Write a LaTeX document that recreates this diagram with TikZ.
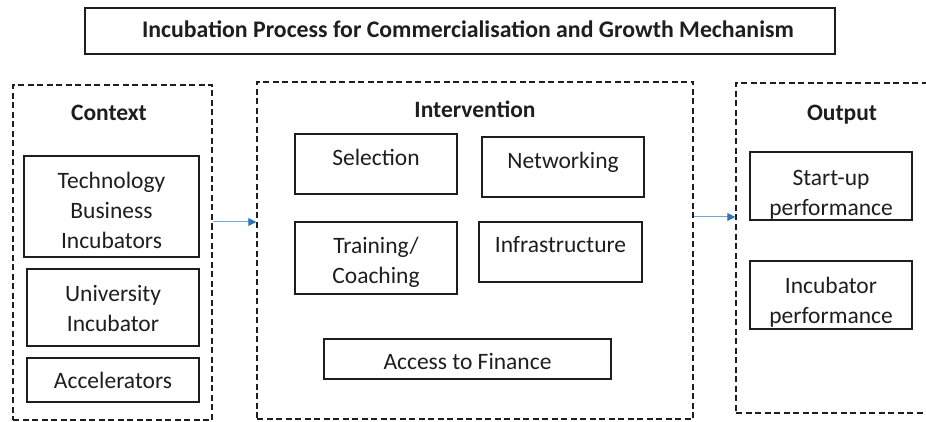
\documentclass[tikz,border=0pt]{standalone}
\usepackage{fontspec}
\setmainfont{Carlito}
\usetikzlibrary{arrows.meta}
\definecolor{ink}{HTML}{1E1E1E}
\definecolor{arrline}{HTML}{6FA8DC}
\definecolor{arrhead}{HTML}{2E75B6}
\tikzset{
  container/.style={draw=ink, line width=1.5pt, dash pattern=on 6pt off 3.5pt, inner sep=0pt},
  box/.style={draw=ink, line width=1.4pt, inner sep=0pt},
  txt/.style={text=ink, font=\fontsize{23.5}{30}\selectfont, align=center, inner sep=0pt},
  one/.style={txt, text height=0.7em, text depth=0.2em},
  head/.style={one, font=\fontsize{23.5}{30}\selectfont\bfseries},
  flow/.style={draw=arrline, line width=1pt, -{Triangle[length=8pt,width=8pt,color=arrhead]}}
}
\begin{document}
\begin{tikzpicture}[x=1pt,y=-1pt]
\useasboundingbox (0,0) rectangle (926,422);
\begin{scope}
\clip (0,0) rectangle (926,422);
% title
\node[box, minimum width=750, minimum height=46] (title) at (460,31) {};
\node[head, font=\fontsize{23.8}{28}\selectfont\bfseries] (titleT) at (468,35) {Incubation Process for Commercialisation and Growth Mechanism};
% containers
\node[container, minimum width=199, minimum height=335] (ctx) at (112.5,252.5) {};
\node[container, minimum width=436, minimum height=337] (intv) at (475,250.5) {};
\node[container, minimum width=230, minimum height=330] (out) at (851,248) {};
% headings
\node[head] (ctxT) at (109,118) {Context};
\node[head] (intvT) at (475,115) {Intervention};
\node[head] (outT) at (842,118) {Output};
% context boxes
\node[box, minimum width=175, minimum height=101] (tbi) at (111.5,206.5) {};
\node[txt] (tbiT) at (111.5,210) {Technology\\Business\\Incubators};
\node[box, minimum width=172, minimum height=77] (uni) at (113,307.5) {};
\node[txt] (uniT) at (113,308.5) {University\\Incubator};
\node[box, minimum width=172, minimum height=44] (acc) at (113,380) {};
\node[one] (accT) at (113,386) {Accelerators};
% intervention boxes
\node[box, minimum width=162, minimum height=60] (sel) at (376,164) {};
\node[one] (selT) at (376,163) {Selection};
\node[box, minimum width=162, minimum height=60] (net) at (563,167) {};
\node[one] (netT) at (563,166) {Networking};
\node[box, minimum width=162, minimum height=72] (tra) at (376,258) {};
\node[txt] (traT) at (376,262) {Training/\\Coaching};
\node[box, minimum width=163, minimum height=60] (inf) at (560.5,252) {};
\node[one] (infT) at (560.5,250) {Infrastructure};
\node[box, minimum width=287, minimum height=40] (fin) at (467.5,359) {};
\node[one] (finT) at (467.5,367) {Access to Finance};
% output boxes
\node[box, minimum width=162, minimum height=68] (sup) at (831,186) {};
\node[txt] (supT) at (831,194.5) {Start-up\\performance};
\node[box, minimum width=162, minimum height=68] (inc) at (831,295) {};
\node[txt] (incT) at (831,302) {Incubator\\performance};
% arrows
\coordinate (a1) at (0,222);
\coordinate (a2) at (0,217);
\draw[flow] (ctx.east |- a1) -- (intv.west |- a1);
\draw[flow] (intv.east |- a2) -- (out.west |- a2);
\end{scope}
\end{tikzpicture}
\end{document}
